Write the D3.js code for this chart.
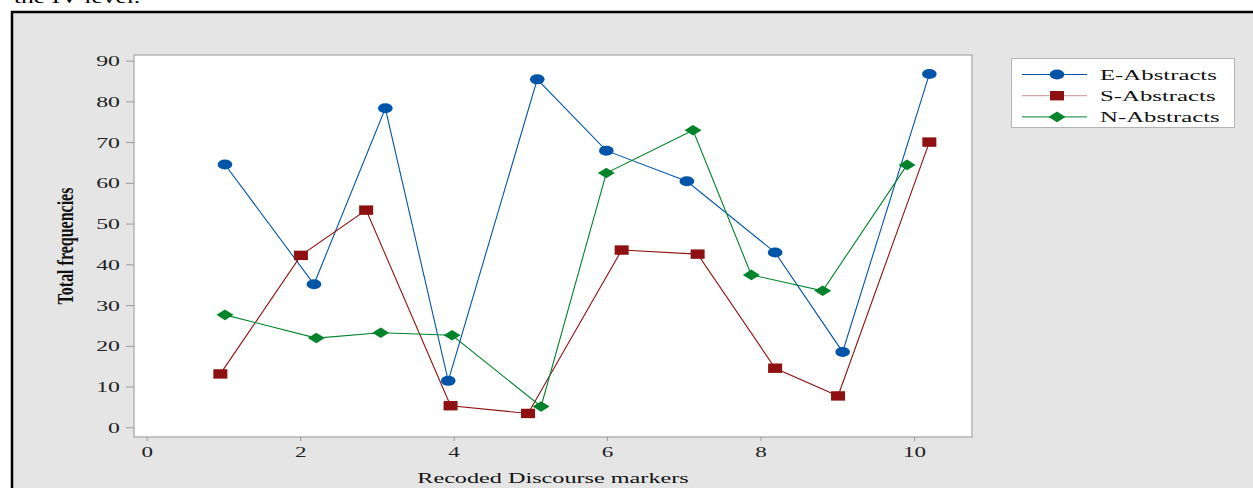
<!DOCTYPE html>
<html><head><meta charset="utf-8">
<script src="https://cdn.jsdelivr.net/npm/d3@7"></script>
<style>body{margin:0;background:#fff}svg{display:block}</style>
</head><body>
<svg id="c" width="1253" height="488"></svg>
<script>
const seriesNames = ["E-Abstracts", "S-Abstracts", "N-Abstracts"];
const eX = [1.02, 2.18, 3.11, 3.93, 5.09, 5.99, 7.04, 8.19, 9.07, 10.20];
const eY = [64.5, 35.1, 78.3, 11.4, 85.4, 67.9, 60.4, 42.9, 18.5, 86.7];
const sX = [0.96, 2.01, 2.86, 3.96, 4.97, 6.19, 7.18, 8.19, 9.01, 10.20];
const sY = [13.1, 42.2, 53.3, 5.3, 3.4, 43.5, 42.5, 14.5, 7.7, 70.0];
const nX = [1.02, 2.21, 3.05, 3.98, 5.14, 5.99, 7.12, 7.88, 8.81, 9.91];
const nY = [27.6, 21.9, 23.2, 22.6, 5.1, 62.4, 72.9, 37.4, 33.5, 64.4];
const xTicks = [0, 2, 4, 6, 8, 10];
const yTicks = [0, 10, 20, 30, 40, 50, 60, 70, 80, 90];
const xTitle = "Recoded Discourse markers";
const yTitle = "Total frequencies";
const topText = "the IV level.";

const colors = ["#0055a8", "#8f1010", "#00832a"];
const shapes = ["ellipse", "square", "diamond"];
const SX = 1.5; // horizontal stretch of the original picture

const svg = d3.select("#c");
// cut-off text at top (as in the reference, only its lower part is visible)
svg.append("text").attr("transform", `translate(14,3) scale(${SX},1)`)
  .attr("font-family", "Liberation Serif").attr("font-size", 17).attr("fill", "#000").text(topText);
// outer panel
svg.append("rect").attr("x", 12).attr("y", 12).attr("width", 1250).attr("height", 490)
  .attr("fill", "#e5e5e5").attr("stroke", "#000").attr("stroke-width", 2.5);

const L = 134, R = 972, T = 55, B = 437;
const x = d3.scaleLinear().domain([0, 10]).range([146.7, 914.0]);
const y = d3.scaleLinear().domain([0, 90]).range([427.3, 60.6]);

svg.append("rect").attr("x", L).attr("y", T).attr("width", R - L).attr("height", B - T)
  .attr("fill", "#fff").attr("stroke", "#b4b4b4").attr("stroke-width", 1.5);

// y axis
const ya = svg.append("g").attr("transform", `translate(${L},0)`)
  .call(d3.axisLeft(y).tickValues(yTicks).tickSize(8).tickPadding(0).tickFormat(d3.format("d")));
ya.select(".domain").remove();
ya.selectAll(".tick line").attr("stroke", "#9a9a9a");
ya.selectAll(".tick text").attr("x", null).attr("dy", null)
  .attr("font-family", "Liberation Serif").attr("font-size", 14).attr("fill", "#222")
  .attr("text-anchor", "end")
  .attr("transform", `translate(-14,5) scale(${SX + 0.2},1)`);

// x axis
const xa = svg.append("g").attr("transform", `translate(0,${B})`)
  .call(d3.axisBottom(x).tickValues(xTicks).tickSize(4).tickPadding(0).tickFormat(d3.format("d")));
xa.select(".domain").remove();
xa.selectAll(".tick line").attr("stroke", "#9a9a9a");
xa.selectAll(".tick text").attr("y", null).attr("dy", null)
  .attr("font-family", "Liberation Serif").attr("font-size", 14).attr("fill", "#222")
  .attr("text-anchor", "middle")
  .attr("transform", `translate(0,20) scale(${SX + 0.15},1)`);

// titles
svg.append("text").attr("transform", `translate(553,483) scale(${SX + 0.23},1)`)
  .attr("text-anchor", "middle").attr("font-family", "Liberation Serif").attr("font-size", 14)
  .attr("fill", "#111").text(xTitle);
svg.append("text").attr("transform", `translate(73,246) scale(${SX},1) rotate(-90)`)
  .attr("text-anchor", "middle").attr("font-family", "Liberation Serif").attr("font-weight", "bold")
  .attr("font-size", 16).attr("fill", "#111").text(yTitle);

function marker(g, shape, color, cx, cy) {
  if (shape === "ellipse") {
    g.append("ellipse").attr("cx", cx).attr("cy", cy).attr("rx", 7.3).attr("ry", 5).attr("fill", color);
  } else if (shape === "square") {
    g.append("rect").attr("x", cx - 7).attr("y", cy - 4.7).attr("width", 14).attr("height", 9.4).attr("fill", color);
  } else {
    g.append("path").attr("d", `M${cx - 8.5},${cy}L${cx},${cy - 5.3}L${cx + 8.5},${cy}L${cx},${cy + 5.3}Z`).attr("fill", color);
  }
}

const data = [[eX, eY], [sX, sY], [nX, nY]];
const line = d3.line().x(d => x(d[0])).y(d => y(d[1]));
data.forEach(([xs, ys], i) => {
  const pts = xs.map((v, j) => [v, ys[j]]);
  const g = svg.append("g");
  g.append("path").attr("d", line(pts)).attr("fill", "none").attr("stroke", colors[i]).attr("stroke-width", 1.1);
  pts.forEach(p => marker(g, shapes[i], colors[i], x(p[0]), y(p[1])));
});

// legend
const lg = svg.append("g");
lg.append("rect").attr("x", 1011.5).attr("y", 58.5).attr("width", 223).attr("height", 69)
  .attr("fill", "#fff").attr("stroke", "#b4b4b4").attr("stroke-width", 1);
seriesNames.forEach((n, i) => {
  const yy = 74.5 + i * 21.2;
  lg.append("line").attr("x1", 1022).attr("x2", 1087).attr("y1", yy).attr("y2", yy)
    .attr("stroke", colors[i]).attr("stroke-width", 1).attr("stroke-opacity", i === 1 ? 0.45 : 1);
  marker(lg, shapes[i], colors[i], 1057, yy);
  lg.append("text").attr("transform", `translate(1100,${yy + 5}) scale(${SX + 0.27},1)`)
    .attr("font-family", "Liberation Serif").attr("font-size", 14).attr("fill", "#111").text(n);
});
</script>
</body></html>
